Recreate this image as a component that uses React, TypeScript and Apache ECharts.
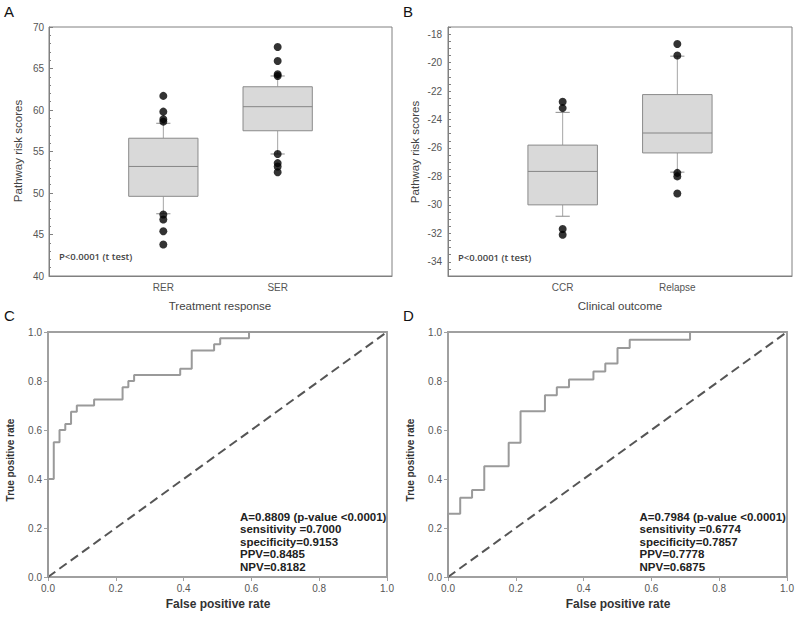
import React, { useEffect, useRef } from 'react';
import * as echarts from 'echarts';

// ---------- Data ----------
const responseCategories = ['RER', 'SER'];
// [lower whisker, Q1, median, Q3, upper whisker]
const responseBoxes = [
  [47.5, 49.6, 53.2, 56.6, 58.4],
  [54.7, 57.5, 60.4, 62.8, 64.1],
];
const responseOutliers = [
  [61.7, 59.8, 58.9, 58.6, 47.4, 46.8, 45.4, 43.8],
  [67.6, 65.9, 64.3, 64.1, 54.7, 53.6, 53.2, 52.5],
];

const outcomeCategories = ['CCR', 'Relapse'];
const outcomeBoxes = [
  [-30.8, -30.0, -27.65, -25.8, -23.5],
  [-27.7, -26.35, -24.95, -22.25, -19.55],
];
const outcomeOutliers = [
  [-22.75, -23.2, -31.7, -32.1],
  [-18.7, -19.5, -27.75, -28.0, -29.2],
];

const responseTickValues = [40, 45, 50, 55, 60, 65, 70];
const outcomeTickValues = [-34, -32, -30, -28, -26, -24, -22, -20, -18];

// ROC curve vertices (false positive rate, true positive rate)
const rocResponseFpr = [0, 0, 0.017, 0.034, 0.051, 0.068, 0.085, 0.136, 0.22, 0.237, 0.254, 0.39, 0.424, 0.49, 0.508, 0.593, 1.0];
const rocResponseTpr = [0, 0.4, 0.55, 0.6, 0.625, 0.675, 0.7, 0.725, 0.775, 0.8, 0.825, 0.85, 0.925, 0.95, 0.975, 1.0, 1.0];

const rocOutcomeFpr = [0, 0, 0.036, 0.071, 0.107, 0.179, 0.214, 0.286, 0.321, 0.357, 0.429, 0.464, 0.5, 0.536, 0.714, 1.0];
const rocOutcomeTpr = [0, 0.258, 0.323, 0.355, 0.452, 0.548, 0.677, 0.742, 0.774, 0.806, 0.839, 0.871, 0.935, 0.968, 1.0, 1.0];

const diagonal = [[0, 0], [1, 1]];

const responseStats = [
  'A=0.8809 (p-value <0.0001)',
  'sensitivity =0.7000',
  'specificity=0.9153',
  'PPV=0.8485',
  'NPV=0.8182',
];
const outcomeStats = [
  'A=0.7984 (p-value <0.0001)',
  'sensitivity =0.6774',
  'specificity=0.7857',
  'PPV=0.7778',
  'NPV=0.6875',
];
const pValueText = 'P<0.0001 (t test)';

// ---------- Helpers ----------
const SANS = '"Liberation Sans", Arial, sans-serif';

function renderBox(_params: any, api: any) {
  const x = api.value(0);
  const lo = api.value(1);
  const q1 = api.value(2);
  const med = api.value(3);
  const q3 = api.value(4);
  const hi = api.value(5);
  const half = 0.303;
  const capHalf = 0.062;
  const tl = api.coord([x - half, q3]);
  const br = api.coord([x + half, q1]);
  const m = api.coord([x, med]);
  const top = api.coord([x, hi]);
  const bot = api.coord([x, lo]);
  const capL = api.coord([x - capHalf, hi])[0];
  const capR = api.coord([x + capHalf, hi])[0];
  const ln = (x1: number, y1: number, x2: number, y2: number, color: string) => ({
    type: 'line',
    shape: { x1, y1, x2, y2 },
    style: { stroke: color, lineWidth: 1 },
  });
  return {
    type: 'group',
    children: [
      ln(m[0], top[1], m[0], tl[1], '#a5a5a5'),
      ln(m[0], br[1], m[0], bot[1], '#a5a5a5'),
      ln(capL, top[1], capR, top[1], '#8c8c8c'),
      ln(capL, bot[1], capR, bot[1], '#8c8c8c'),
      {
        type: 'rect',
        shape: { x: tl[0], y: tl[1], width: br[0] - tl[0], height: br[1] - tl[1] },
        style: { fill: '#d9d9d9', stroke: '#8a8a8a', lineWidth: 1 },
      },
      ln(tl[0], m[1], br[0], m[1], '#858585'),
    ],
  };
}

function boxAxisX(gridIndex: number, cats: string[]) {
  return {
    gridIndex,
    type: 'value',
    min: 0,
    max: 3,
    interval: 1,
    axisLine: { show: true, lineStyle: { color: '#808080', width: 1 } },
    axisTick: { show: false },
    splitLine: { show: false },
    axisLabel: {
      formatter: (v: number) => cats[v - 1] ?? '',
      color: '#555',
      fontSize: 10,
      fontFamily: SANS,
      margin: 6,
    },
  };
}

function rocAxis(gridIndex: number) {
  return {
    gridIndex,
    type: 'value',
    min: 0,
    max: 1,
    interval: 0.2,
    axisLine: { show: true, onZero: false, lineStyle: { color: '#a0a0a0', width: 2 } },
    axisTick: { show: true, inside: false, length: 4, lineStyle: { color: '#a0a0a0', width: 1 } },
    splitLine: { show: false },
    axisLabel: {
      formatter: (v: number) => v.toFixed(1),
      color: '#555',
      fontSize: 10,
      fontFamily: SANS,
      margin: 6,
    },
  };
}

function textEl(text: string, x: number, y: number, opts: any = {}) {
  return {
    type: 'text',
    x,
    y,
    rotation: opts.rotation ?? 0,
    style: {
      text,
      fill: opts.color ?? '#444',
      font: opts.font ?? `11.5px ${SANS}`,
      textAlign: opts.align ?? 'center',
      textVerticalAlign: opts.valign ?? 'middle',
      lineHeight: opts.lineHeight,
    },
    silent: true,
  };
}

function buildOption(): any {
  const boxSeries = (idx: number, boxes: number[][], outliers: number[][]) => [
    {
      type: 'custom',
      xAxisIndex: idx,
      yAxisIndex: idx,
      renderItem: renderBox,
      encode: { x: 0, y: [1, 2, 3, 4, 5] },
      data: boxes.map((b, i) => [i + 1, ...b]),
      z: 2,
    },
    {
      type: 'scatter',
      xAxisIndex: idx,
      yAxisIndex: idx,
      symbol: 'circle',
      symbolSize: 8,
      itemStyle: { color: '#000' },
      data: outliers.flatMap((vals, i) => vals.map((v) => [i + 1, v])),
      z: 3,
    },
  ];

  const rocSeries = (idx: number, fpr: number[], tpr: number[]) => [
    {
      type: 'line',
      xAxisIndex: idx,
      yAxisIndex: idx,
      data: diagonal,
      showSymbol: false,
      clip: false,
      lineStyle: { color: '#555', width: 2, type: [9, 5] },
      z: 2,
    },
    {
      type: 'line',
      xAxisIndex: idx,
      yAxisIndex: idx,
      step: 'end',
      data: fpr.map((f, i) => [f, tpr[i]]),
      showSymbol: false,
      clip: false,
      lineStyle: { color: '#9a9a9a', width: 2 },
      z: 3,
    },
  ];

  const statFont = `bold 11.5px ${SANS}`;
  const graphics: any[] = [
    textEl('A', 4, 11, { align: 'left', font: `15px ${SANS}`, color: '#111' }),
    textEl('B', 403, 11, { align: 'left', font: `15px ${SANS}`, color: '#111' }),
    textEl('C', 4, 315, { align: 'left', font: `15px ${SANS}`, color: '#111' }),
    textEl('D', 403, 315, { align: 'left', font: `15px ${SANS}`, color: '#111' }),
    textEl('Pathway risk scores', 18, 151, { rotation: Math.PI / 2 }),
    textEl('Pathway risk scores', 415, 152, { rotation: Math.PI / 2 }),
    textEl('Treatment response', 220, 306),
    textEl('Clinical outcome', 620, 306),
    textEl(pValueText, 59, 256, { align: 'left', font: `600 9.5px "Open Sans", sans-serif`, color: '#444' }),
    textEl(pValueText, 458, 257, { align: 'left', font: `600 9.5px "Open Sans", sans-serif`, color: '#444' }),
    textEl('True positive rate', 10, 460, { rotation: Math.PI / 2, font: `bold 10px ${SANS}`, color: '#333' }),
    textEl('True positive rate', 410, 460, { rotation: Math.PI / 2, font: `bold 10px ${SANS}`, color: '#333' }),
    textEl('False positive rate', 218, 604, { font: `bold 12px ${SANS}`, color: '#333' }),
    textEl('False positive rate', 618, 604, { font: `bold 12px ${SANS}`, color: '#333' }),
    textEl(responseStats.join('\n'), 240, 510.5, {
      align: 'left', valign: 'top', font: statFont, color: '#222', lineHeight: 12.5,
    }),
    textEl(outcomeStats.join('\n'), 639.5, 510.5, {
      align: 'left', valign: 'top', font: statFont, color: '#222', lineHeight: 12.5,
    }),
  ];

  return {
    animation: false,
    backgroundColor: '#fff',
    textStyle: { fontFamily: SANS },
    grid: [
      { left: 49, top: 27, width: 343, height: 249, show: true, borderColor: '#808080', borderWidth: 1 },
      { left: 448, top: 27, width: 344, height: 249, show: true, borderColor: '#808080', borderWidth: 1 },
      { left: 48, top: 332, width: 339, height: 245, show: true, borderColor: '#a0a0a0', borderWidth: 2 },
      { left: 448, top: 332, width: 339, height: 245, show: true, borderColor: '#a0a0a0', borderWidth: 2 },
    ],
    xAxis: [
      boxAxisX(0, responseCategories),
      boxAxisX(1, outcomeCategories),
      rocAxis(2),
      rocAxis(3),
    ],
    yAxis: [
      {
        gridIndex: 0,
        type: 'value',
        min: responseTickValues[0],
        max: responseTickValues[responseTickValues.length - 1],
        interval: responseTickValues[1] - responseTickValues[0],
        axisLine: { show: true, lineStyle: { color: '#808080', width: 1 } },
        axisTick: { show: true, inside: true, length: 4, lineStyle: { color: '#808080' } },
        minorTick: { show: true, splitNumber: 5, length: 2, lineStyle: { color: '#808080' } },
        splitLine: { show: false },
        axisLabel: { color: '#555', fontSize: 10, fontFamily: SANS, margin: 5 },
      },
      {
        gridIndex: 1,
        type: 'value',
        min: -35,
        max: -17.5,
        interval: 0.5,
        axisLine: { show: true, lineStyle: { color: '#808080', width: 1 } },
        axisTick: { show: true, inside: true, length: 3, lineStyle: { color: '#808080' } },
        splitLine: { show: false },
        axisLabel: {
          color: '#555',
          fontSize: 10,
          fontFamily: SANS,
          margin: 6,
          formatter: (v: number) => (outcomeTickValues.indexOf(v) >= 0 ? String(v) : ''),
        },
      },
      rocAxis(2),
      rocAxis(3),
    ],
    series: [
      ...boxSeries(0, responseBoxes, responseOutliers),
      ...boxSeries(1, outcomeBoxes, outcomeOutliers),
      ...rocSeries(2, rocResponseFpr, rocResponseTpr),
      ...rocSeries(3, rocOutcomeFpr, rocOutcomeTpr),
    ],
    graphic: graphics,
  };
}

export default function App() {
  const ref = useRef<HTMLDivElement>(null);
  useEffect(() => {
    if (!ref.current) return;
    const chart = echarts.init(ref.current, null, { renderer: 'svg' });
    chart.setOption(buildOption());
    return () => chart.dispose();
  }, []);
  return (
    <div
      ref={ref}
      style={{ position: 'absolute', left: 0, top: 0, width: 800, height: 621, background: '#fff' }}
    />
  );
}
